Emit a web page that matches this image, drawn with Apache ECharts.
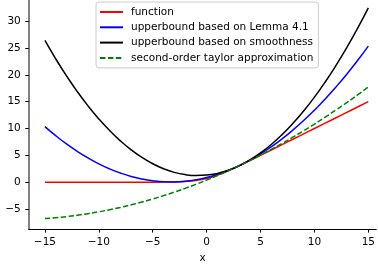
<!DOCTYPE html>
<html>
<head>
<meta charset="utf-8">
<script src="https://cdn.jsdelivr.net/npm/echarts@6/dist/echarts.min.js"></script>
<style>
html,body{margin:0;padding:0;background:#fff;}
#chart{width:378px;height:269px;}
</style>
</head>
<body>
<div id="chart"></div>
<script>
// x positions (integers from -15 to 15)
var xs = [-15,-14,-13,-12,-11,-10,-9,-8,-7,-6,-5,-4,-3,-2,-1,0,1,2,3,4,5,6,7,8,9,10,11,12,13,14,15];
// red: function
var funcVals = [0,0,0,0,0,0,0.0001,0.0003,0.0009,0.0025,0.0067,0.0181,0.0486,0.127,0.313,0.693,1.313,2.127,3.049,4.018,5.007,6.002,7.001,8.0,9.0,10,11,12,13,14,15];
// blue: upperbound based on Lemma 4.1
var lemmaVals = [10.36,8.67,7.13,5.75,4.51,3.42,2.49,1.71,1.07,0.59,0.26,0.08,0.05,0.17,0.45,0.87,1.45,2.17,3.05,4.08,5.26,6.59,8.07,9.70,11.48,13.42,15.50,17.74,20.12,22.66,25.35];
// black: upperbound based on smoothness
var smoothVals = [26.40,22.98,19.81,16.88,14.21,11.79,9.62,7.69,6.02,4.60,3.43,2.51,1.83,1.41,1.24,1.32,1.64,2.22,3.05,4.13,5.45,7.03,8.86,10.94,13.26,15.84,18.67,21.75,25.07,28.65,32.48];
// green dashed: second-order taylor approximation
var taylorVals = [-6.78,-6.62,-6.41,-6.16,-5.86,-5.52,-5.13,-4.70,-4.22,-3.70,-3.13,-2.51,-1.85,-1.15,-0.40,0.39,1.23,2.12,3.05,4.02,5.04,6.11,7.22,8.38,9.58,10.82,12.11,13.45,14.83,16.26,17.73];
var xTicks = [-15,-10,-5,0,5,10,15];
var yTicks = [-5,0,5,10,15,20,25,30];
var seriesNames = ['function','upperbound based on Lemma 4.1','upperbound based on smoothness','second-order taylor approximation'];

function pairs(vals){ return xs.map(function(x,i){ return [x, vals[i]]; }); }
function fmt(v){ return String(v).replace('-', '\u2212'); }

var font = 'DejaVu Sans';
var chart = echarts.init(document.getElementById('chart'), null, {renderer:'canvas'});
chart.setOption({
  animation: false,
  backgroundColor: '#ffffff',
  grid: {left: 28.75, right: 0, top: 0, bottom: 39.3, containLabel: false},
  legend: {
    orient: 'vertical', left: 96, top: 2,
    itemWidth: 23, itemHeight: 12, itemGap: 3.3,
    padding: [4, 5, 4, 3],
    borderColor: '#cccccc', borderWidth: 1, borderRadius: 3,
    backgroundColor: 'rgba(255,255,255,0.8)',
    itemStyle: {opacity: 0, borderWidth: 0, color: 'transparent'},
    textStyle: {fontFamily: font, fontSize: 10.5, color: '#000', lineHeight: 12, padding: [0,0,0,3]},
    data: seriesNames
  },
  xAxis: {
    type: 'value', min: -16.5, max: 15.74,
    name: 'x', nameLocation: 'middle', nameGap: 23,
    nameTextStyle: {fontFamily: font, fontSize: 10.5, color: '#000'},
    axisLine: {show: true, onZero: false, lineStyle: {color: '#000', width: 1}},
    axisTick: {show: true, length: 3.5, lineStyle: {color: '#000', width: 1}, customValues: xTicks},
    axisLabel: {fontFamily: font, fontSize: 10.5, color: '#000', margin: 8, customValues: xTicks, formatter: fmt},
    splitLine: {show: false}
  },
  yAxis: {
    type: 'value', min: -8.74, max: 33.94,
    axisLine: {show: true, onZero: false, lineStyle: {color: '#808080', width: 2}},
    axisTick: {show: true, length: 3.5, lineStyle: {color: '#000', width: 1}, customValues: yTicks},
    axisLabel: {fontFamily: font, fontSize: 10.5, color: '#000', margin: 8, customValues: yTicks, formatter: fmt},
    splitLine: {show: false}
  },
  series: [
    {name: seriesNames[0], type: 'line', data: pairs(funcVals), smooth: true, symbol: 'none', lineStyle: {color: '#ff0000', width: 1.5}, itemStyle: {color: '#ff0000'}},
    {name: seriesNames[1], type: 'line', data: pairs(lemmaVals), smooth: true, symbol: 'none', lineStyle: {color: '#0000ff', width: 1.5}, itemStyle: {color: '#0000ff'}},
    {name: seriesNames[2], type: 'line', data: pairs(smoothVals), smooth: true, symbol: 'none', lineStyle: {color: '#000000', width: 1.5}, itemStyle: {color: '#000000'}},
    {name: seriesNames[3], type: 'line', data: pairs(taylorVals), smooth: true, symbol: 'none', lineStyle: {color: '#008000', width: 1.5, type: [5.5, 2.4]}, itemStyle: {color: '#008000'}}
  ]
});
</script>
</body>
</html>
